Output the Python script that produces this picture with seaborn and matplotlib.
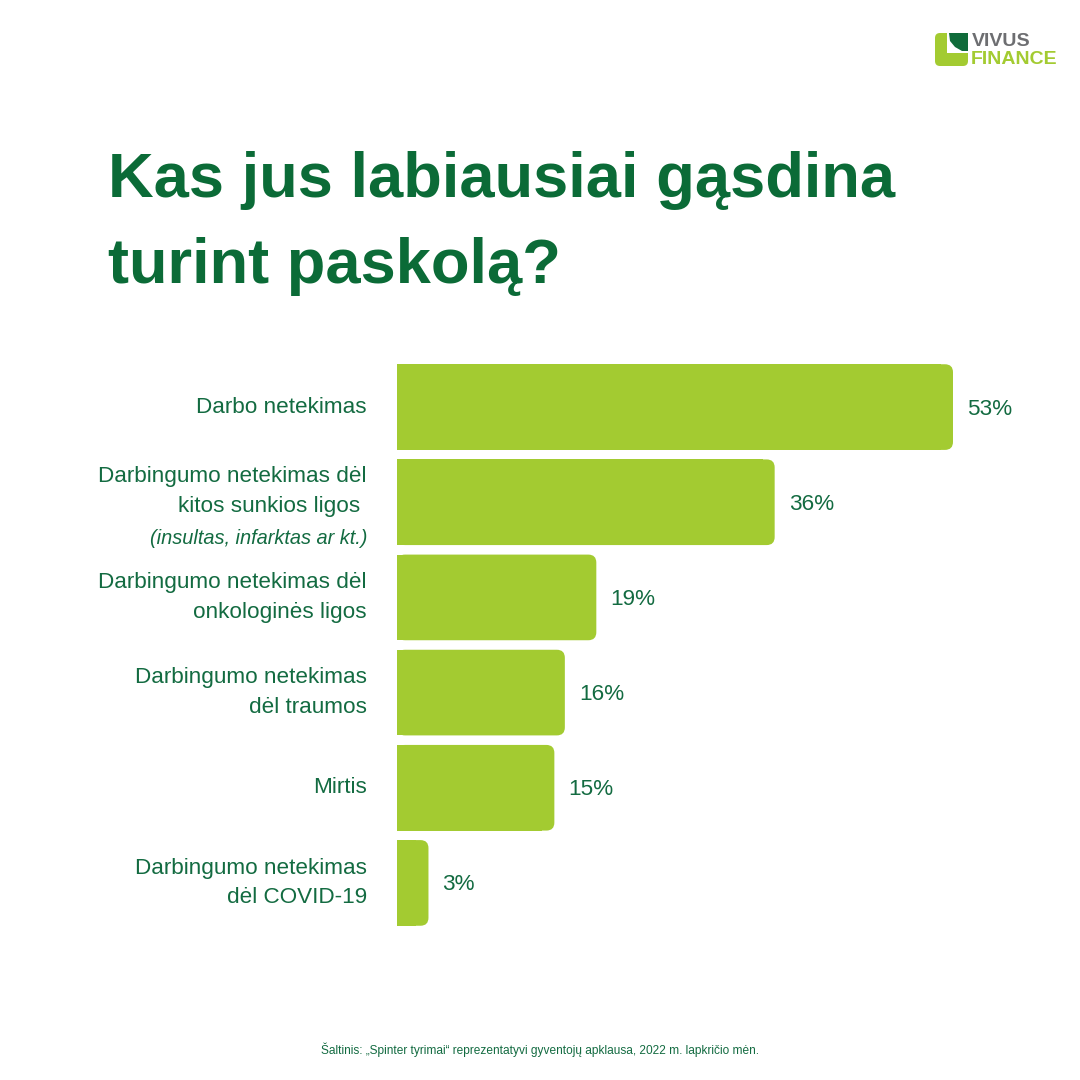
"""Kas jus labiausiai gąsdina turint paskolą? - horizontal bar chart."""

import matplotlib.pyplot as plt
import matplotlib.patches as mpatches
import pandas as pd
import seaborn as sns

BAR_GREEN = "#A3CB31"
TEXT_GREEN = "#136B41"
TITLE_GREEN = "#0B6B37"
LOGO_GRAY = "#6D6E71"
LOGO_DARK = "#0F6B3A"

sns.set_theme(style="white")
plt.rcParams["font.family"] = ["Liberation Sans", "DejaVu Sans"]

categories = [
    "Darbo netekimas",
    "Darbingumo netekimas dėl\nkitos sunkios ligos ",
    "Darbingumo netekimas dėl\nonkologinės ligos",
    "Darbingumo netekimas\ndėl traumos",
    "Mirtis",
    "Darbingumo netekimas\ndėl COVID-19",
]
values = [53, 36, 19, 16, 15, 3]
notes = ["", "(insultas, infarktas ar kt.)", "", "", "", ""]

data = pd.DataFrame({"category": categories, "value": values})

W, H = 1080, 1080
fig = plt.figure(figsize=(W / 100, H / 100), dpi=100)
fig.patch.set_facecolor("white")

# axes placed in pixels: bars start at x=397, 53% ends at x~953
px_per_pct = (953 - 397) / 53
xmax = 60
left, top, bottom = 397, 359.5, 930.5
ax = fig.add_axes([left / W, 1 - bottom / H,
                   xmax * px_per_pct / W, (bottom - top) / H])

sns.barplot(data=data, x="value", y="category", color=BAR_GREEN,
            saturation=1, width=0.9, orient="h", ax=ax,
            edgecolor="none", linewidth=0)
ax.set_xlim(0, xmax)
ax.set_ylim(5.5, -0.5)
ax.axis("off")

# rounded right corners
r = 8 / px_per_pct
aspect = (1 / 95) / (1 / px_per_pct)
for p in list(ax.patches):
    x0, y0 = p.get_x(), p.get_y()
    w, h = p.get_width(), p.get_height()
    p.set_width(max(w - r * 1.5, 0))
    rb = mpatches.FancyBboxPatch(
        (x0, y0), w, h, boxstyle=f"round,pad=0,rounding_size={r}",
        mutation_aspect=aspect, facecolor=BAR_GREEN, edgecolor="none",
        linewidth=0)
    ax.add_patch(rb)

# category labels and values
for i, (cat, val, note) in enumerate(zip(categories, values, notes)):
    shift = 11 if note else 0
    ax.annotate(cat, xy=(0, i), xycoords="data",
                xytext=(-30, shift), textcoords="offset pixels",
                ha="right", va="center", fontsize=16.2, color=TEXT_GREEN,
                linespacing=1.55)
    if note:
        ax.annotate(note, xy=(0, i), xycoords="data",
                    xytext=(-30, -36), textcoords="offset pixels",
                    ha="right", va="center", fontsize=14.4,
                    style="italic", color=TEXT_GREEN)
    ax.annotate(f"{val}%", xy=(val, i), xycoords="data",
                xytext=(14, -2), textcoords="offset pixels",
                ha="left", va="center", fontsize=16.2, color=TEXT_GREEN)

# title
fig.text(108 / W, 1 - 197 / H, "Kas jus labiausiai gąsdina",
         fontsize=45.5, fontweight="bold", color=TITLE_GREEN,
         ha="left", va="baseline")
fig.text(108 / W, 1 - 283 / H, "turint paskolą?",
         fontsize=45.5, fontweight="bold", color=TITLE_GREEN,
         ha="left", va="baseline")

# source
fig.text(540 / W, 1 - 1050 / H,
         "Šaltinis: „Spinter tyrimai“ reprezentatyvi gyventojų apklausa, "
         "2022 m. lapkričio mėn.",
         fontsize=8.6, color=TEXT_GREEN, ha="center", va="center")

# logo
lax = fig.add_axes([930 / W, 1 - 72 / H, 130 / W, 44 / H])
lax.set_xlim(930, 1060)
lax.set_ylim(72, 28)
lax.axis("off")
lax.add_patch(mpatches.FancyBboxPatch(
    (935, 33), 33, 33, boxstyle="round,pad=0,rounding_size=5",
    facecolor=BAR_GREEN, edgecolor="none"))
lax.add_patch(mpatches.Rectangle((947, 31), 23, 22, facecolor="white",
                                 edgecolor="none"))
lax.add_patch(mpatches.Polygon(
    [(949, 33), (968, 33), (968, 51), (962, 51), (955, 47), (950, 41)],
    closed=True, facecolor=LOGO_DARK, edgecolor="none"))
lax.text(972, 42, "VIVUS", fontsize=14, fontweight="bold",
         color=LOGO_GRAY, ha="left", va="center")
lax.text(971, 59.5, "FINANCE", fontsize=14, fontweight="bold",
         color=BAR_GREEN, ha="left", va="center")

fig.savefig("out.png", dpi=100)
